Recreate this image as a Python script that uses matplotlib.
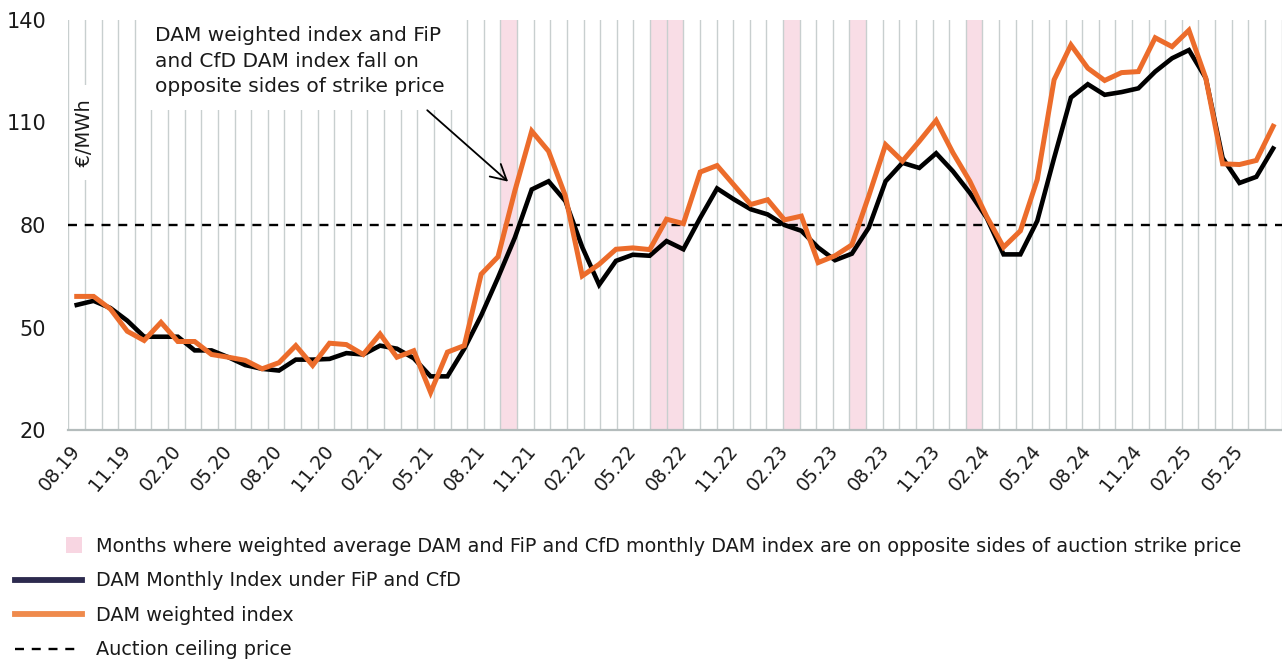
import numpy as np
import pandas as pd
import matplotlib
matplotlib.use("Agg")
import matplotlib.pyplot as plt
from matplotlib.patches import Patch, Rectangle
from matplotlib.lines import Line2D
from matplotlib.legend_handler import HandlerPatch
from matplotlib.ticker import FixedLocator
from matplotlib.transforms import ScaledTranslation

# ---------------- data ----------------
months = pd.date_range("2019-08-01", periods=72, freq="MS").strftime("%m.%y").tolist()
band_months = pd.date_range("2019-08-01", periods=73, freq="MS").strftime("%m.%y").tolist()

dam_fip_cfd = [56.6, 57.8, 55.7, 52.0, 47.3, 47.3, 47.3, 43.3, 43.3, 41.3,
               39.0, 37.9, 37.4, 40.6, 40.6, 40.8, 42.5, 42.1, 44.7, 43.8,
               41.0, 35.7, 35.7, 43.8, 53.5, 64.6, 76.3, 90.4, 92.8, 87.0,
               73.5, 62.5, 69.5, 71.3, 71.0, 75.3, 72.9, 82.1, 90.7, 87.5,
               84.6, 83.1, 80.0, 78.3, 73.4, 69.7, 71.6, 79.2, 92.8, 98.2,
               96.7, 101.0, 95.7, 89.4, 82.1, 71.4, 71.4, 81.2, 99.6, 117.3,
               121.2, 118.1, 118.9, 120.0, 124.9, 128.8, 131.2, 123.0, 99.6, 92.3,
               94.1, 102.4]

dam_weighted = [59.1, 59.1, 55.4, 48.9, 46.2, 51.5, 45.9, 45.9, 42.1, 41.3,
                40.4, 37.9, 39.7, 44.7, 38.9, 45.4, 45.0, 42.1, 48.1, 41.3,
                43.2, 31.0, 42.8, 44.7, 65.6, 70.7, 90.0, 107.5, 101.6, 88.5,
                65.1, 68.5, 72.9, 73.3, 72.8, 81.7, 80.4, 95.5, 97.4, 91.7,
                86.0, 87.4, 81.5, 82.6, 69.0, 71.0, 74.2, 88.5, 103.5, 98.7,
                104.5, 110.6, 101.1, 92.8, 82.5, 73.5, 78.3, 93.3, 122.5, 132.7,
                125.9, 122.3, 124.6, 124.9, 134.8, 132.2, 137.0, 123.0, 97.9, 97.7,
                98.9, 108.9]

ceiling_price = 80
opposite_months = ["10.21", "07.22", "08.22", "03.23", "07.23", "02.24"]
tick_positions = list(range(0, len(months), 3))
tick_labels = [months[i] for i in tick_positions]
y_ticks = [20, 50, 80, 110, 140]

annotation = "DAM weighted index and FiP\nand CfD DAM index fall on\nopposite sides of strike price"
legend_labels = [
    "Months where weighted average DAM and FiP and CfD monthly DAM index are on opposite sides of auction strike price",
    "DAM Monthly Index under FiP and CfD",
    "DAM weighted index",
    "Auction ceiling price",
]

# ---------------- style ----------------
TXT = "#1a1a1a"
ORANGE = "#ec6c2b"
PINK = "#f9dde6"
GRID = "#c8cfcf"
plt.rcParams["font.family"] = ["DejaVu Sans"]

W, H = 1282, 664
fig = plt.figure(figsize=(W / 100, H / 100), dpi=100)
left, right, top, bottom = 68.3, 1281.6, 20, 430
ax = fig.add_axes([left / W, 1 - bottom / H, (right - left) / W, (bottom - top) / H])
ax_b = ax.twiny()
ax.set_zorder(ax_b.get_zorder() + 1)
ax.patch.set_visible(False)

# band axis (73 month slots): pink bands + vertical grid
ax_b.set_xlim(-0.5, len(band_months) - 0.5)
for m in opposite_months:
    i = band_months.index(m)
    ax_b.axvspan(i - 0.5, i + 0.5, color=PINK, lw=0, zorder=0.5)
ax_b.xaxis.set_major_locator(FixedLocator([]))
ax_b.xaxis.set_minor_locator(FixedLocator(np.arange(-0.5, len(band_months), 1.0)))
ax_b.grid(which="minor", axis="x", color=GRID, lw=1.0)
ax_b.set_axisbelow(False)
ax_b.tick_params(axis="x", which="both", length=0, labeltop=False, labelbottom=False)
for s in ax_b.spines.values():
    s.set_visible(False)

# line axis (72 months)
ax.set_xlim(-0.5, len(months) - 0.5)
ax.set_ylim(20, 140)
x = np.arange(len(months))
ax.axhline(ceiling_price, color="black", lw=1.7, ls=(0, (3.8, 3.3)), zorder=1.5)
ax.plot(x, dam_fip_cfd, color="black", lw=3.3, solid_joinstyle="miter", zorder=2)
ax.plot(x, dam_weighted, color=ORANGE, lw=3.6, solid_joinstyle="miter", zorder=3)

ax.set_yticks(y_ticks)
ax.tick_params(axis="y", length=0, pad=16, labelsize=15, labelcolor=TXT)
ax.set_xticks(tick_positions)
ax.set_xticklabels(tick_labels, rotation=50, ha="right", va="top",
                   rotation_mode="anchor", fontsize=13.5, color=TXT)
ax.tick_params(axis="x", length=0, pad=8)
shift = ScaledTranslation(-7 / 100, 0, fig.dpi_scale_trans)
for lab in ax.get_xticklabels():
    lab.set_transform(lab.get_transform() + shift)
for name, s in ax.spines.items():
    s.set_visible(name == "bottom")
ax.spines["bottom"].set_color("#b4bcbc")
ax.spines["bottom"].set_linewidth(1.6)

# unit label
ax.text(0.49, 107, "  €/MWh  ", rotation=90, ha="center", va="center", fontsize=14,
        color=TXT, bbox=dict(boxstyle="square,pad=0.08", facecolor="white", edgecolor="none"),
        zorder=4)

# annotation
ax.text(4.65, 138.3, annotation, ha="left", va="top", fontsize=14.5, color=TXT,
        linespacing=1.45, bbox=dict(facecolor="white", edgecolor="none", pad=10), zorder=4)
ax.annotate("", xy=(25.6, 92.7), xytext=(20.8, 113.6),
            arrowprops=dict(arrowstyle="->,head_length=0.55,head_width=0.3",
                            mutation_scale=20, color="black", lw=1.3,
                            shrinkA=0, shrinkB=0), zorder=4)

# legend
def square_handle(legend, orig_handle, xdescent, ydescent, width, height, fontsize):
    s = 11.5
    return Rectangle((width - xdescent - s, -ydescent + (height - s) / 2), s, s)

handles = [
    Patch(facecolor="#f8d6e2", edgecolor="none"),
    Line2D([], [], color="#2c2a4e", lw=4.2),
    Line2D([], [], color="#ef8a4c", lw=4.2),
    Line2D([], [], color="black", lw=1.7, ls=(0, (3.8, 3.3))),
]
leg = fig.legend(handles, legend_labels, loc="upper left",
                 bbox_to_anchor=(15 / W, 1 - 537 / H), frameon=False, fontsize=13.9,
                 handlelength=3.45, handletextpad=0.75, labelspacing=0.8,
                 borderpad=0, borderaxespad=0,
                 handler_map={Patch: HandlerPatch(patch_func=square_handle)})
for t in leg.get_texts():
    t.set_color(TXT)

fig.savefig("out.png", dpi=100)
